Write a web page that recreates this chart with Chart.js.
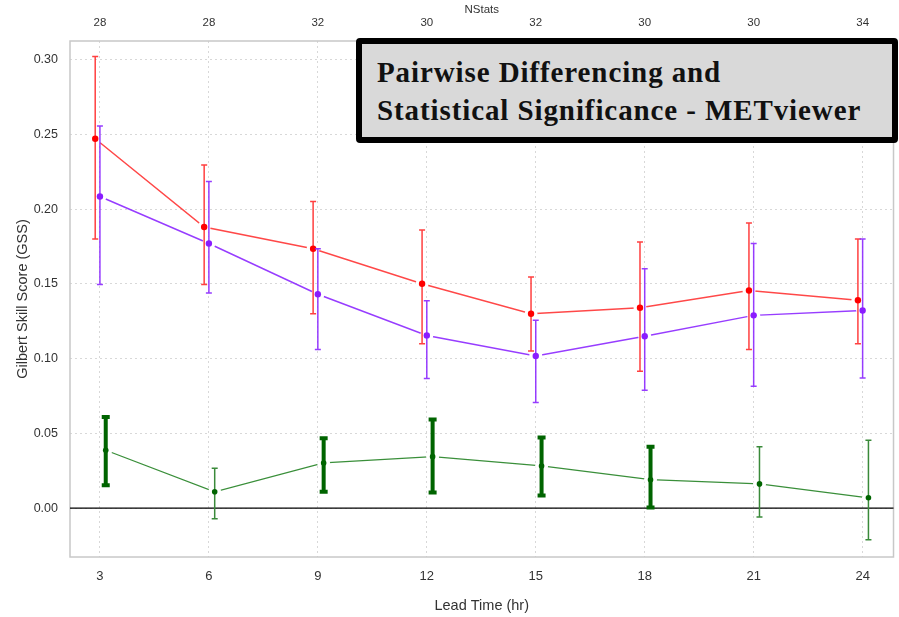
<!DOCTYPE html>
<html>
<head>
<meta charset="utf-8">
<script src="https://cdn.jsdelivr.net/npm/chart.js@4/dist/chart.umd.min.js"></script>
<style>
  body { margin: 0; background: #fff; }
  #wrap { position: relative; width: 899px; height: 617px; }
  #note {
    position: absolute; left: 356px; top: 38px; width: 542px; height: 105px;
    box-sizing: border-box; border: 6px solid #000; border-radius: 4px;
    background: #d9d9d9; padding: 9px 0 0 15px;
    font: bold 29px "Liberation Serif", serif; letter-spacing: 0.9px;
    line-height: 38px; color: #111;
  }
</style>
</head>
<body>
<div id="wrap">
  <canvas id="chart" width="899" height="617"></canvas>
  <div id="note">Pairwise Differencing and<br>Statistical Significance - METviewer</div>
</div>
<script>
// lead times (hr) and number of stats per lead time (top axis)
const leadTimes = [3, 6, 9, 12, 15, 18, 21, 24];
const nStats = [28, 28, 32, 30, 32, 30, 30, 34];

// model 1 (red)
const redGss = [0.247, 0.188, 0.1735, 0.150, 0.130, 0.134, 0.1455, 0.139];
const redLo  = [0.180, 0.1495, 0.130, 0.110, 0.105, 0.0915, 0.106, 0.110];
const redHi  = [0.302, 0.2295, 0.205, 0.186, 0.1545, 0.178, 0.1907, 0.180];

// model 2 (purple)
const purpleGss = [0.2084, 0.177, 0.143, 0.1155, 0.1017, 0.1149, 0.1289, 0.1322];
const purpleLo  = [0.1495, 0.1438, 0.106, 0.0867, 0.0707, 0.0789, 0.0815, 0.087];
const purpleHi  = [0.2555, 0.2184, 0.1735, 0.1387, 0.1257, 0.160, 0.1769, 0.180];

// pairwise difference (green)
const diffGss = [0.0387, 0.0109, 0.0302, 0.0344, 0.0282, 0.019, 0.0162, 0.0069];
const diffLo  = [0.0153, -0.0071, 0.0109, 0.0104, 0.0084, 0.0004, -0.006, -0.0211];
const diffHi  = [0.061, 0.0267, 0.0467, 0.0593, 0.0473, 0.0411, 0.0411, 0.0453];
const diffSignificant = [true, false, true, true, true, true, false, false];

const yTicks = [0, 0.05, 0.10, 0.15, 0.20, 0.25, 0.30];

// small horizontal dodge so the error bars don't overlap
const dodge = { red: -0.13, purple: 0, green: 0.16 };

function pts(vals, dx) {
    return vals.map((v, i) => ({ x: leadTimes[i] + dx, y: v }));
}

const errorBars = {
    id: 'errorBars',
    beforeDatasetsDraw(chart) {
        const { ctx, chartArea: a, scales } = chart;
        ctx.save();
        // plot frame
        ctx.strokeStyle = '#c8c8c8';
        ctx.lineWidth = 1.5;
        ctx.strokeRect(a.left, a.top, a.right - a.left, a.bottom - a.top);
        // zero line
        const y0 = scales.y.getPixelForValue(0);
        ctx.strokeStyle = '#000';
        ctx.lineWidth = 1.2;
        ctx.beginPath();
        ctx.moveTo(a.left, y0);
        ctx.lineTo(a.right, y0);
        ctx.stroke();
        ctx.restore();
    },
    afterDatasetsDraw(chart) {
        const { ctx, scales } = chart;
        const sets = chart.data.datasets;
        ctx.save();
        // gap in the line around each point (like R's type = "b")
        ctx.fillStyle = '#fff';
        sets.forEach((ds) => {
            ds.data.forEach((p) => {
                ctx.beginPath();
                ctx.arc(scales.x.getPixelForValue(p.x), scales.y.getPixelForValue(p.y), 6.5, 0, Math.PI * 2);
                ctx.fill();
            });
        });
        sets.forEach((ds) => {
            ds.data.forEach((p, i) => {
                const x = scales.x.getPixelForValue(p.x);
                const yl = scales.y.getPixelForValue(ds.errLo[i]);
                const yh = scales.y.getPixelForValue(ds.errHi[i]);
                const thick = ds.thick && ds.thick[i];
                ctx.strokeStyle = thick ? ds.thickColor : ds.barColor;
                ctx.lineWidth = thick ? 4 : 1.5;
                const cap = thick ? 4 : 3;
                ctx.beginPath();
                ctx.moveTo(x, yl); ctx.lineTo(x, yh);
                ctx.moveTo(x - cap, yl); ctx.lineTo(x + cap, yl);
                ctx.moveTo(x - cap, yh); ctx.lineTo(x + cap, yh);
                ctx.stroke();
                ctx.fillStyle = ds.backgroundColor;
                ctx.beginPath();
                ctx.arc(x, scales.y.getPixelForValue(p.y), ds.pointRadius, 0, Math.PI * 2);
                ctx.fill();
            });
        });
        ctx.restore();
    }
};

const family = '"Liberation Sans", Arial, sans-serif';

new Chart(document.getElementById('chart'), {
    type: 'line',
    data: {
        datasets: [
            {
                data: pts(redGss, dodge.red),
                errLo: redLo, errHi: redHi,
                borderColor: 'rgba(255,40,40,0.85)', barColor: 'rgba(255,30,30,0.85)',
                backgroundColor: '#ff0000', pointBorderColor: '#ff0000',
                borderWidth: 1.5, pointRadius: 3.2
            },
            {
                data: pts(purpleGss, dodge.purple),
                errLo: purpleLo, errHi: purpleHi,
                borderColor: 'rgba(140,40,255,0.9)', barColor: 'rgba(140,40,255,0.9)',
                backgroundColor: '#8a1cff', pointBorderColor: '#8a1cff',
                borderWidth: 1.5, pointRadius: 3.2
            },
            {
                data: pts(diffGss, dodge.green),
                errLo: diffLo, errHi: diffHi, thick: diffSignificant,
                borderColor: '#3a8f3a', barColor: '#3a8a3a', thickColor: '#006400',
                backgroundColor: '#006400', pointBorderColor: '#006400',
                borderWidth: 1.3, pointRadius: 2.8
            }
        ]
    },
    options: {
        responsive: false,
        animation: false,
        layout: { padding: { left: 0, right: 4, top: 0, bottom: 0 } },
        plugins: { legend: { display: false }, tooltip: { enabled: false } },
        scales: {
            x: {
                type: 'linear', position: 'bottom',
                min: 2.176, max: 24.85,
                afterBuildTicks: (s) => { s.ticks = leadTimes.map(v => ({ value: v })); },
                afterFit: (s) => { s.height = 60; },
                ticks: { font: { family, size: 13 }, color: '#333', padding: 12, maxRotation: 0 },
                grid: { color: '#d8d8d8', drawTicks: false, lineWidth: 1 },
                border: { display: false, dash: [2, 3] },
                title: {
                    display: true, text: 'Lead Time (hr)', color: '#333',
                    font: { family, size: 14.5, lineHeight: 1 }, padding: { top: 4, bottom: 4 }
                }
            },
            x2: {
                type: 'linear', position: 'top',
                min: 2.176, max: 24.85,
                afterBuildTicks: (s) => { s.ticks = leadTimes.map(v => ({ value: v })); },
                afterFit: (s) => { s.height = 41; },
                ticks: {
                    font: { family, size: 11.5 }, color: '#333', padding: 11,
                    maxRotation: 0,
                    callback: (v) => nStats[leadTimes.indexOf(v)]
                },
                grid: { display: false, drawTicks: false },
                border: { display: false },
                title: {
                    display: true, text: 'NStats', color: '#333',
                    font: { family, size: 11.5, lineHeight: 1 }, padding: { top: 4, bottom: 0 }
                }
            },
            y: {
                min: -0.0327, max: 0.3124,
                afterBuildTicks: (s) => { s.ticks = yTicks.map(v => ({ value: v })); },
                afterFit: (s) => { s.width = 70; },
                ticks: {
                    font: { family, size: 12.5 }, color: '#333', padding: 12,
                    callback: (v) => v.toFixed(2)
                },
                grid: { color: '#d8d8d8', drawTicks: false, lineWidth: 1 },
                border: { display: false, dash: [2, 3] },
                title: {
                    display: true, text: 'Gilbert Skill Score (GSS)', color: '#333',
                    font: { family, size: 14.5, lineHeight: 1 }, padding: { top: 16 }
                }
            }
        }
    },
    plugins: [errorBars]
});
</script>
</body>
</html>
